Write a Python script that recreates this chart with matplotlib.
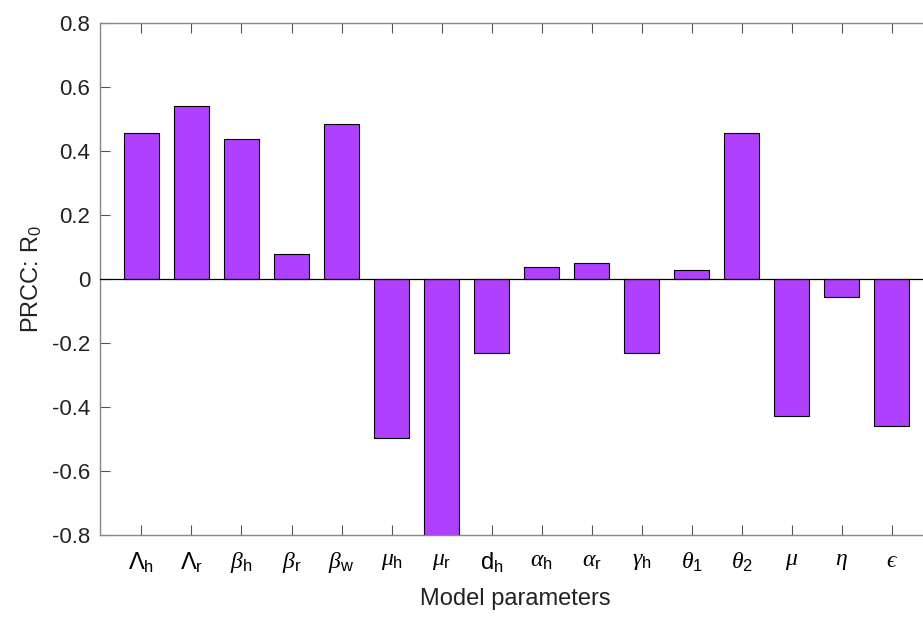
import numpy as np
import matplotlib.pyplot as plt

plt.rcParams['font.family'] = ['Liberation Sans', 'DejaVu Sans']
plt.rcParams['mathtext.fontset'] = 'custom'
plt.rcParams['mathtext.rm'] = 'Liberation Sans'
plt.rcParams['mathtext.it'] = 'Liberation Serif:italic'
plt.rcParams['mathtext.sf'] = 'Liberation Sans'

params = [r'$\mathit{\Lambda}_{\mathrm{h}}$', r'$\mathit{\Lambda}_{\mathrm{r}}$', r'$\beta_{\mathrm{h}}$',
          r'$\beta_{\mathrm{r}}$', r'$\beta_{\mathrm{w}}$', r'$\mu_{\mathrm{h}}$',
          r'$\mu_{\mathrm{r}}$', r'$\mathrm{d}_{\mathrm{h}}$', r'$\alpha_{\mathrm{h}}$',
          r'$\alpha_{\mathrm{r}}$', r'$\gamma_{\mathrm{h}}$', r'$\theta_{\mathrm{1}}$',
          r'$\theta_{\mathrm{2}}$', r'$\mu$', r'$\eta$', '$\u03f5$']
prcc = [0.457, 0.54, 0.437, 0.078, 0.484, -0.498, -0.82, -0.23,
        0.038, 0.051, -0.23, 0.028, 0.457, -0.427, -0.057, -0.458]

x = np.arange(1, len(prcc) + 1)

fig = plt.figure(figsize=(9.23, 6.27), dpi=100)
# axes run slightly past the right edge of the figure, as in the reference
ax = fig.add_axes([0.1083, 0.1467, 0.9, 0.8166])

ax.bar(x, prcc, width=0.7, color='#b040ff', edgecolor='black', linewidth=0.8, zorder=2)
ax.axhline(0, color='black', linewidth=0.9, zorder=3)

ax.set_xlim(0.17, 16.78)
ax.set_ylim(-0.8, 0.8)
ax.set_xticks(x)
ax.set_xticklabels(params, fontsize=17)
ax.set_yticks(np.arange(-0.8, 0.81, 0.2))
ax.set_yticklabels(['-0.8', '-0.6', '-0.4', '-0.2', '0', '0.2', '0.4', '0.6', '0.8'],
                   fontsize=16, color='#222222')

ax.tick_params(direction='in', length=7, color='#555555', top=True, right=False, width=0.8)
ax.tick_params(axis='x', pad=11)
ax.tick_params(axis='y', pad=7)
for s in ax.spines.values():
    s.set_color('#888888')
    s.set_linewidth(1.0)
ax.spines['right'].set_visible(False)

ax.set_ylabel(r'PRCC: R$_{\mathrm{0}}$', fontsize=17, labelpad=6, color='#222222')
ax.set_xlabel('Model parameters', fontsize=17, labelpad=9, color='#222222')

plt.savefig('out.png', dpi=100)
